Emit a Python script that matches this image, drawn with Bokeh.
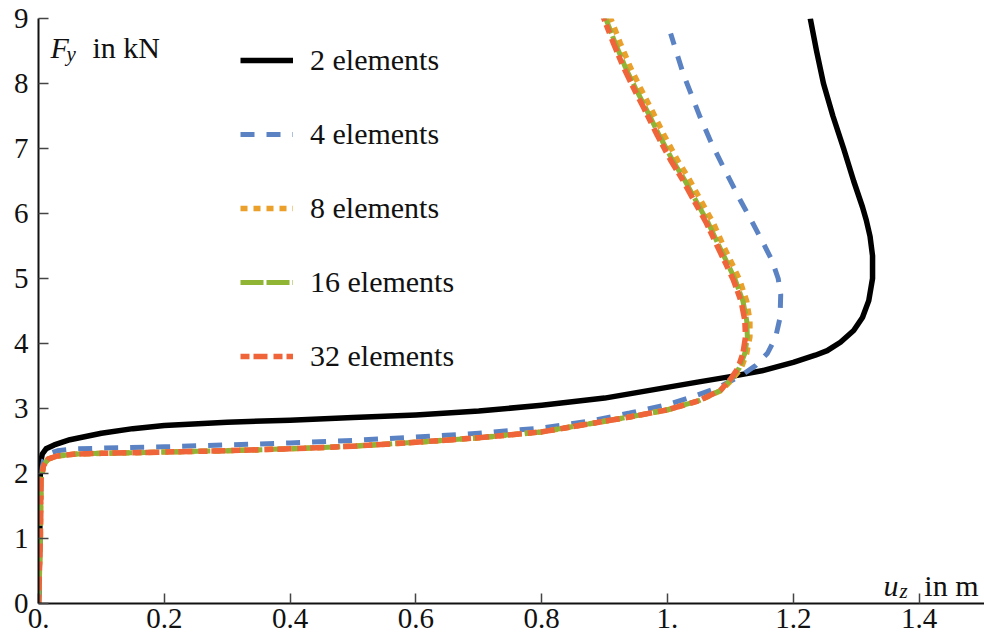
from bokeh.plotting import figure
from bokeh.models import ColumnDataSource, FixedTicker, Label, Range1d
from bokeh.embed import file_html
from bokeh.resources import INLINE

# Load-displacement curves (u_z in m, F_y in kN) for different mesh refinements
u_2 = [0.0, 0.002, 0.003, 0.006, 0.012, 0.025, 0.05, 0.1, 0.15, 0.2, 0.3, 0.4, 0.5, 0.6,
       0.7, 0.8, 0.9, 0.99, 1.05, 1.1, 1.15, 1.2, 1.235, 1.254, 1.275, 1.296, 1.31, 1.32,
       1.326, 1.326, 1.322, 1.316, 1.31, 1.296, 1.28, 1.263, 1.248, 1.237, 1.227]
F_2 = [0.0, 1.0, 2.15, 2.3, 2.38, 2.44, 2.52, 2.62, 2.69, 2.74, 2.79, 2.82, 2.86, 2.9,
       2.96, 3.05, 3.16, 3.31, 3.41, 3.49, 3.58, 3.71, 3.82, 3.89, 4.02, 4.2, 4.4, 4.66,
       5.0, 5.35, 5.65, 5.9, 6.1, 6.5, 7.0, 7.5, 8.0, 8.5, 9.0]

u_4 = [0.0, 0.003, 0.004, 0.008, 0.015, 0.03, 0.06, 0.1, 0.2, 0.3, 0.4, 0.5, 0.6, 0.7,
       0.8, 0.873, 0.94, 1.0, 1.04, 1.08, 1.116, 1.14, 1.159, 1.172, 1.179, 1.18, 1.176,
       1.166, 1.152, 1.134, 1.116, 1.089, 1.07, 1.052, 1.025, 1.005]
F_4 = [0.0, 1.0, 2.0, 2.2, 2.3, 2.35, 2.38, 2.39, 2.41, 2.44, 2.47, 2.51, 2.56, 2.62,
       2.7, 2.8, 2.93, 3.06, 3.18, 3.32, 3.5, 3.66, 3.85, 4.1, 4.4, 4.75, 5.0,
       5.28, 5.55, 5.88, 6.2, 6.71, 7.08, 7.48, 8.15, 8.77]

u_8 = [0.0, 0.003, 0.004, 0.008, 0.015, 0.03, 0.06, 0.1, 0.2, 0.3, 0.4, 0.5, 0.6, 0.7,
       0.8, 0.873, 0.94, 1.0, 1.05, 1.086, 1.103, 1.117, 1.126, 1.131, 1.131, 1.126, 1.115,
       1.103, 1.09, 1.073, 1.053, 1.035, 1.016, 0.995, 0.973, 0.957, 0.941, 0.925, 0.909]
F_8 = [0.0, 1.0, 1.9, 2.12, 2.22, 2.27, 2.3, 2.31, 2.33, 2.35, 2.38, 2.42, 2.48, 2.55,
       2.64, 2.76, 2.87, 2.98, 3.12, 3.28, 3.45, 3.62, 3.85, 4.1, 4.35, 4.65, 4.97,
       5.22, 5.48, 5.85, 6.2, 6.52, 6.82, 7.2, 7.63, 7.93, 8.25, 8.62, 9.02]

u_16 = [0.0, 0.003, 0.004, 0.008, 0.015, 0.03, 0.06, 0.1, 0.2, 0.3, 0.4, 0.5, 0.6, 0.7,
        0.8, 0.873, 0.94, 1.0, 1.05, 1.085, 1.101, 1.114, 1.123, 1.127, 1.126, 1.12, 1.108,
        1.096, 1.083, 1.065, 1.045, 1.027, 1.008, 0.987, 0.965, 0.949, 0.933, 0.917, 0.901]
F_16 = [0.0, 1.0, 1.9, 2.12, 2.22, 2.27, 2.3, 2.31, 2.33, 2.35, 2.38, 2.42, 2.48, 2.55,
        2.64, 2.76, 2.87, 2.98, 3.12, 3.28, 3.45, 3.62, 3.85, 4.1, 4.35, 4.65, 4.97,
        5.22, 5.48, 5.85, 6.2, 6.52, 6.82, 7.2, 7.63, 7.93, 8.25, 8.62, 9.02]

u_32 = [0.0, 0.003, 0.004, 0.008, 0.015, 0.03, 0.06, 0.1, 0.2, 0.3, 0.4, 0.5, 0.6, 0.7,
        0.8, 0.873, 0.94, 1.0, 1.05, 1.084, 1.1, 1.112, 1.12, 1.124, 1.123, 1.117, 1.105,
        1.093, 1.08, 1.062, 1.042, 1.024, 1.005, 0.984, 0.962, 0.946, 0.93, 0.914, 0.898]
F_32 = [0.0, 1.0, 1.9, 2.12, 2.22, 2.27, 2.3, 2.31, 2.33, 2.35, 2.38, 2.42, 2.48, 2.55,
        2.64, 2.76, 2.87, 2.98, 3.12, 3.28, 3.45, 3.62, 3.85, 4.1, 4.35, 4.65, 4.97,
        5.22, 5.48, 5.85, 6.2, 6.52, 6.82, 7.2, 7.63, 7.93, 8.25, 8.62, 9.02]

series_labels = ["2 elements", "4 elements", "8 elements", "16 elements", "32 elements"]
x_ticks = [0.0, 0.2, 0.4, 0.6, 0.8, 1.0, 1.2, 1.4]
y_ticks = [0, 1, 2, 3, 4, 5, 6, 7, 8, 9]

FONT = "Liberation Serif"

p = figure(width=984, height=643, output_backend="svg", toolbar_location=None,
           x_range=Range1d(0, 1.504), y_range=Range1d(0, 9),
           min_border_left=38, min_border_right=0, min_border_top=18,
           min_border_bottom=40)
p.outline_line_color = None
p.xgrid.visible = False
p.ygrid.visible = False

styles = [
    dict(color="#000000", dash="solid", width=5.5),
    dict(color="#5b83c3", dash="14 12", width=5),
    dict(color="#eaa02a", dash="7 6", width=5.5),
    dict(color="#90b434", dash="23 3", width=5),
    dict(color="#f0643a", dash="9 4 14 6", width=5.5),
]
curves = [(u_2, F_2), (u_4, F_4), (u_8, F_8), (u_16, F_16), (u_32, F_32)]

for (u, F), label, st in zip(curves, series_labels, styles):
    src = ColumnDataSource(dict(u=u, F=F))
    p.line("u", "F", source=src, line_color=st["color"], line_width=st["width"],
           line_dash=st["dash"], line_cap="butt", line_join="round",
           legend_label=label)

for ax in (p.xaxis[0], p.yaxis[0]):
    ax.axis_line_width = 2
    ax.axis_line_color = "#111111"
    ax.major_tick_in = 10
    ax.major_tick_out = 0
    ax.minor_tick_in = 0
    ax.minor_tick_out = 0
    ax.major_tick_line_width = 1.5
    ax.major_tick_line_color = "#444444"
    ax.major_label_text_font = FONT
    ax.major_label_text_font_size = "29px"
    ax.major_label_text_color = "#111111"

p.xaxis.ticker = FixedTicker(ticks=x_ticks)
p.yaxis.ticker = FixedTicker(ticks=y_ticks)
p.xaxis.major_label_overrides = {0: "0.", 0.2: "0.2", 0.4: "0.4", 0.6: "0.6",
                                 0.8: "0.8", 1: "1.", 1.2: "1.2", 1.4: "1.4"}
p.xaxis.major_label_standoff = 5
p.yaxis.major_label_standoff = 10

leg = p.legend[0]
leg.location = (202, 230)
leg.background_fill_alpha = 0
leg.border_line_alpha = 0
leg.padding = 0
leg.margin = 0
leg.glyph_width = 53
leg.glyph_height = 30
leg.label_height = 30
leg.spacing = 40
leg.label_standoff = 17
leg.label_text_font = FONT
leg.label_text_font_size = "30px"
leg.label_text_color = "#111111"

# Axis titles written inside the frame, with italic symbols and subscripts
def add_text(x, y, text, size="30px", style="normal", align="left"):
    p.add_layout(Label(x=x, y=y, x_units="screen", y_units="screen", text=text,
                       text_font=FONT, text_font_size=size, text_font_style=style,
                       text_align=align, text_baseline="alphabetic",
                       text_color="#111111"))

add_text(12, 556, "F", style="italic")
add_text(28, 550, "y", size="21px", style="italic")
add_text(54, 556, "in kN")
add_text(845, 18, "u", style="italic")
add_text(861, 13, "z", size="21px", style="italic")
add_text(940, 18, "in m", align="right")

open("out.html", "w").write(file_html(p, INLINE))
